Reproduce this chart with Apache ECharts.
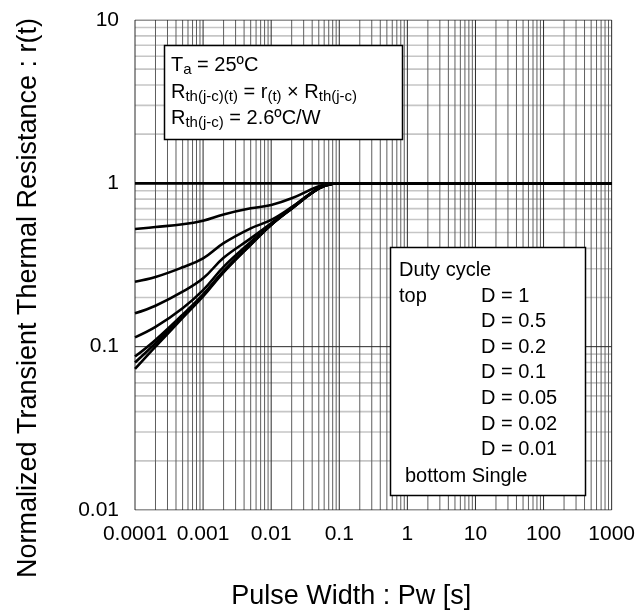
<!DOCTYPE html>
<html>
<head>
<meta charset="utf-8">
<script src="https://cdn.jsdelivr.net/npm/echarts@6/dist/echarts.min.js"></script>
<style>
  html, body { margin: 0; padding: 0; background: #fff; }
  #chart { width: 638px; height: 615px; }
</style>
</head>
<body>
<div id="chart"></div>
<script>
// ---- data ----
const pulseWidth = [0.0001, 0.0002, 0.0005, 0.001, 0.002, 0.005, 0.01, 0.02, 0.05, 0.08, 0.1, 1000];
const rD1     = [1, 1, 1, 1, 1, 1, 1, 1, 1, 1, 1, 1];
const rD05    = [0.525, 0.540, 0.561, 0.591, 0.645, 0.703, 0.737, 0.810, 0.960, 1.0, 1, 1];
const rD02    = [0.250, 0.267, 0.306, 0.347, 0.430, 0.530, 0.597, 0.715, 0.935, 0.995, 1, 1];
const rD01    = [0.160, 0.178, 0.217, 0.262, 0.350, 0.460, 0.569, 0.710, 0.933, 0.995, 1, 1];
const rD005   = [0.114, 0.132, 0.172, 0.222, 0.308, 0.437, 0.562, 0.705, 0.930, 0.995, 1, 1];
const rD002   = [0.087, 0.110, 0.157, 0.209, 0.291, 0.425, 0.558, 0.702, 0.930, 0.995, 1, 1];
const rD001   = [0.080, 0.105, 0.153, 0.206, 0.288, 0.422, 0.557, 0.700, 0.930, 0.995, 1, 1];
const rSingle = [0.073, 0.100, 0.150, 0.203, 0.285, 0.420, 0.556, 0.700, 0.930, 0.995, 1, 1];

const xTickValues = [0.0001, 0.001, 0.01, 0.1, 1, 10, 100, 1000];
const xTickLabels = ['0.0001', '0.001', '0.01', '0.1', '1', '10', '100', '1000'];
const yTickValues = [0.01, 0.1, 1, 10];
const yTickLabels = ['0.01', '0.1', '1', '10'];
const minorMultipliers = [2, 3, 4, 5, 6, 7, 8, 9];

const legendLines = ['D = 1', 'D = 0.5', 'D = 0.2', 'D = 0.1', 'D = 0.05', 'D = 0.02', 'D = 0.01'];

// ---- build ----
const FONT = '"Liberation Sans", Arial, Helvetica, sans-serif';
const curves = [rD1, rD05, rD02, rD01, rD005, rD002, rD001, rSingle];
const names = ['D = 1', 'D = 0.5', 'D = 0.2', 'D = 0.1', 'D = 0.05', 'D = 0.02', 'D = 0.01', 'Single'];

function labelFor(vals, labels) {
  return function (v) {
    for (let i = 0; i < vals.length; i++) {
      if (Math.abs(Math.log10(v) - Math.log10(vals[i])) < 1e-6) return labels[i];
    }
    return '';
  };
}

const yMin = yTickValues[0], yMax = yTickValues[yTickValues.length - 1];
const xMin = xTickValues[0], xMax = xTickValues[xTickValues.length - 1];

const series = [];
function gridLine(points, color, width) {
  series.push({
    type: 'line', data: points, silent: true, z: 1, symbol: 'none', showSymbol: false,
    lineStyle: { color: color, width: width }, animation: false,
    emphasis: { disabled: true }, tooltip: { show: false }
  });
}
// minor horizontal
for (let i = 0; i < yTickValues.length - 1; i++) {
  minorMultipliers.forEach(m => {
    const v = yTickValues[i] * m;
    gridLine([[xMin, v], [xMax, v]], '#c6c6c6', 1.6);
  });
}
// minor vertical
for (let i = 0; i < xTickValues.length - 1; i++) {
  minorMultipliers.forEach(m => {
    const v = xTickValues[i] * m;
    gridLine([[v, yMin], [v, yMax]], '#5e5e5e', 1);
  });
}
yTickValues.forEach(v => gridLine([[xMin, v], [xMax, v]], '#2a2a2a', 1));
xTickValues.forEach(v => gridLine([[v, yMin], [v, yMax]], '#2a2a2a', 1));

curves.forEach((c, i) => {
  series.push({
    name: names[i], type: 'line', z: 3,
    smooth: 0.4, showSymbol: false, symbol: 'none',
    lineStyle: { color: '#000', width: 2.6 },
    data: pulseWidth.map((x, j) => [x, c[j]]),
    animation: false
  });
});

const chart = echarts.init(document.getElementById('chart'), null, { renderer: 'canvas' });

const subTxt = { fontSize: 15, fontFamily: FONT, color: '#000', verticalAlign: 'bottom', lineHeight: 16 };
const mainTxt = { fontSize: 20, fontFamily: FONT, color: '#000', verticalAlign: 'top', lineHeight: 22 };

const graphics = [
  { type: 'rect', z: 10, shape: { x: 164.5, y: 45.5, width: 238, height: 94 },
    style: { fill: '#fff', stroke: '#000', lineWidth: 1.5 } },
  { type: 'text', z: 11, x: 171, y: 55,
    style: { text: '{b|T}{s|a}{b| = 25ºC}', rich: { b: mainTxt, s: subTxt } } },
  { type: 'text', z: 11, x: 171, y: 82,
    style: { text: '{b|R}{s|th(j-c)(t)}{b| = r}{s|(t)}{b| × R}{s|th(j-c)}', rich: { b: mainTxt, s: subTxt } } },
  { type: 'text', z: 11, x: 171, y: 108,
    style: { text: '{b|R}{s|th(j-c)}{b| = 2.6ºC/W}', rich: { b: mainTxt, s: subTxt } } },
  { type: 'rect', z: 10, shape: { x: 390.5, y: 247.5, width: 195, height: 248 },
    style: { fill: '#fff', stroke: '#000', lineWidth: 1.5 } },
  { type: 'text', z: 11, x: 399, y: 270,
    style: { text: 'Duty cycle', fontSize: 20, fontFamily: FONT, fill: '#000', verticalAlign: 'middle' } },
  { type: 'text', z: 11, x: 399, y: 296,
    style: { text: 'top', fontSize: 20, fontFamily: FONT, fill: '#000', verticalAlign: 'middle' } },
  { type: 'text', z: 11, x: 405, y: 476,
    style: { text: 'bottom Single', fontSize: 20, fontFamily: FONT, fill: '#000', verticalAlign: 'middle' } }
];
legendLines.forEach((t, i) => {
  graphics.push({ type: 'text', z: 11, x: 481, y: 296 + i * 25.6,
    style: { text: t, fontSize: 20, fontFamily: FONT, fill: '#000', verticalAlign: 'middle' } });
});

chart.setOption({
  animation: false,
  backgroundColor: '#fff',
  tooltip: { show: false },
  grid: { left: 135, right: 26, top: 20, bottom: 105, containLabel: false },
  xAxis: {
    type: 'log', logBase: 10, min: xMin, max: xMax, interval: 1,
    name: 'Pulse Width : Pw [s]', nameLocation: 'middle', nameGap: 73,
    nameTextStyle: { fontSize: 27, fontFamily: FONT, color: '#000', padding: [0, 44, 0, 0] },
    axisLine: { show: false }, axisTick: { show: false }, splitLine: { show: false },
    axisLabel: { fontSize: 21, fontFamily: FONT, color: '#000', margin: 14, interval: 0,
      hideOverlap: false, formatter: labelFor(xTickValues, xTickLabels) }
  },
  yAxis: {
    type: 'log', logBase: 10, min: yMin, max: yMax, interval: 1,
    name: 'Normalized Transient Thermal Resistance : r(t)', nameLocation: 'middle', nameGap: 93,
    nameTextStyle: { fontSize: 27, fontFamily: FONT, color: '#000', padding: [0, 66, 0, 0] },
    axisLine: { show: false }, axisTick: { show: false }, splitLine: { show: false },
    axisLabel: { fontSize: 21, fontFamily: FONT, color: '#000', margin: 16,
      formatter: labelFor(yTickValues, yTickLabels) }
  },
  graphic: graphics,
  series: series
});
</script>
</body>
</html>
